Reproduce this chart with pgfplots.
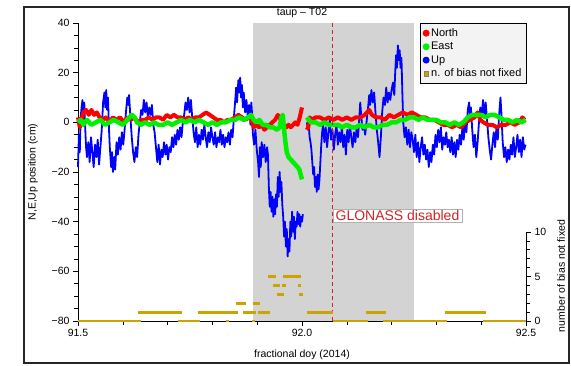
\documentclass[border=0pt]{standalone}
\usepackage{pgfplots}
\pgfplotsset{compat=1.18}
\usepackage{fontspec}
\setmainfont{Liberation Sans}
\definecolor{cN}{RGB}{255,0,0}
\definecolor{cE}{RGB}{0,240,0}
\definecolor{cU}{RGB}{0,0,255}
\definecolor{cB}{RGB}{204,163,0}
\definecolor{shade}{RGB}{211,211,211}
\definecolor{dline}{RGB}{210,35,35}
\begin{document}
\begin{tikzpicture}
\begin{axis}[
  name=main,
  at={(0,0)}, anchor=south west,
  scale only axis, width=448pt, height=298pt,
  xmin=91.5, xmax=92.5, ymin=-80, ymax=40,
  axis x line*=bottom, axis y line*=left,
  axis line style={black, line width=0.8pt},
  tick align=outside,
  major tick length=5pt, minor tick length=3.5pt,
  tick style={black, line width=0.6pt},
  xtick={91.5,92.0,92.5}, xticklabels={91.5,92.0,92.5},
  minor xtick={91.6,91.7,91.8,91.9,92.1,92.2,92.3,92.4},
  ytick={-80,-60,-40,-20,0,20,40},
  yticklabels={−80,−60,−40,−20,0,20,40},
  minor y tick num=3,
  ticklabel style={font=\fontsize{10.5}{12}\selectfont},
  /pgf/number format/assume math mode=true,
  clip=false,
  legend style={at={(1.002,1.0)}, anchor=north east, fill={rgb,255:red,243;green,243;blue,243},
    draw=black, line width=0.9pt, font=\fontsize{11}{12}\selectfont,
    row sep=0.3pt, inner xsep=3pt, inner ysep=3pt, cells={anchor=west}},
  legend cell align=left,
]
\addlegendimage{only marks, mark=*, cN, mark size=3pt}
\addlegendentry{North}
\addlegendimage{only marks, mark=*, cE, mark size=3pt}
\addlegendentry{East}
\addlegendimage{only marks, mark=*, cU, mark size=3pt}
\addlegendentry{Up}
\addlegendimage{only marks, mark=square*, cB, mark size=2.3pt, mark options={draw=black!50, line width=0.2pt, fill=cB}}
\addlegendentry{n. of bias not fixed}

% shaded period
\addplot[draw=none, fill=shade, forget plot] coordinates {(91.89,-80) (92.25,-80) (92.25,40) (91.89,40)} -- cycle;

% Up
\addplot[cU, line width=1.8pt, line join=round, unbounded coords=jump, forget plot] coordinates {
(91.500,-18) (91.502,-5) (91.504,-12) (91.506,2) (91.508,6) (91.510,9) (91.512,3) (91.514,8) (91.516,-2) (91.518,-10)
(91.520,-14) (91.523,-8) (91.526,-16) (91.529,-6) (91.532,-12) (91.535,-18) (91.538,-9) (91.541,-14) (91.544,-7) (91.547,-17) (91.550,-10)
(91.553,-3) (91.556,8) (91.559,12) (91.561,6) (91.563,13) (91.565,5) (91.567,10)
(91.569,-2) (91.571,-10) (91.574,-18) (91.576,-12) (91.578,-20) (91.581,-14) (91.583,-19)
(91.586,-8) (91.589,-13) (91.592,-6) (91.595,-11) (91.598,-4) (91.601,-9) (91.604,-3)
(91.607,4) (91.610,10) (91.612,7) (91.614,11) (91.617,2)
(91.620,-6) (91.623,-12) (91.626,-16) (91.629,-10) (91.632,-14) (91.635,-5)
(91.638,0) (91.641,5) (91.644,3) (91.647,9) (91.650,4) (91.653,8) (91.656,2) (91.659,6) (91.662,3) (91.665,7)
(91.668,-1) (91.671,-4)
(91.674,-10) (91.677,-16) (91.680,-9) (91.683,-17) (91.686,-11) (91.689,-14) (91.692,-8) (91.695,-13) (91.698,-9) (91.701,-15) (91.704,-10) (91.707,-12) (91.710,-6)
(91.713,-10) (91.716,-5) (91.719,-9) (91.722,-3) (91.725,-7) (91.728,-2) (91.731,-6) (91.734,0)
(91.737,3) (91.740,8) (91.743,5) (91.746,10) (91.749,4) (91.752,9) (91.755,2)
(91.758,-4) (91.761,-8) (91.764,-2) (91.767,-10) (91.770,-5)
(91.773,-9) (91.776,-3) (91.779,-7) (91.782,-1) (91.785,-6) (91.788,-10) (91.791,-4) (91.794,-8) (91.797,-2) (91.800,-6)
(91.803,-9) (91.806,-4) (91.809,-10) (91.812,-6) (91.815,-8) (91.818,-3) (91.821,-9) (91.824,-5) (91.827,-10) (91.830,-6) (91.833,-8) (91.836,-4) (91.839,-9) (91.842,-3) (91.845,-6)
(91.848,2) (91.851,9) (91.853,14) (91.855,8) (91.858,17) (91.860,12) (91.862,18) (91.864,10) (91.866,15) (91.868,6) (91.870,12)
(91.873,4) (91.876,9) (91.879,2) (91.882,7) (91.885,-1) (91.887,8) (91.889,2)
(91.890,-4) (91.893,-9) (91.896,-3) (91.899,-11)
(91.902,-16) (91.904,-22) (91.906,-10) (91.908,-18) (91.910,-8)
(91.913,-14) (91.916,-9) (91.919,-16) (91.922,-10) (91.924,-13)
(91.926,-26) (91.928,-34) (91.930,-28) (91.932,-36)
(91.934,-30) (91.936,-38) (91.938,-31) (91.940,-37) (91.942,-29)
(91.944,-34) (91.946,-22) (91.948,-30) (91.950,-20) (91.952,-28) (91.954,-24) (91.956,-33)
(91.958,-38) (91.960,-46) (91.962,-40) (91.964,-50) (91.966,-43) (91.968,-54) (91.970,-47) (91.972,-52)
(91.974,-40) (91.976,-46) (91.978,-36) (91.980,-44) (91.982,-38) (91.984,-47) (91.986,-40)
(91.988,-42) (91.990,-36) (91.992,-41) (91.994,-37) (91.996,-42) (91.998,-38) (92.000,-40) (92.002,-37)
(92.006,nan)
(92.011,0) (92.013,-3) (92.015,-1) (92.017,-6) (92.019,-8) (92.021,-11)
(92.023,-16) (92.025,-21) (92.027,-18) (92.029,-26) (92.031,-22) (92.033,-28)
(92.035,-21) (92.037,-27) (92.039,-23)
(92.041,-16) (92.043,-9) (92.045,-4) (92.047,-1)
(92.050,-8) (92.053,-2) (92.056,-10) (92.059,-4) (92.062,1) (92.065,-7) (92.068,-3) (92.071,-11) (92.074,-5) (92.077,-1) (92.080,-9) (92.083,-4) (92.086,-8) (92.089,-2) (92.092,-10) (92.095,-5)
(92.098,-13) (92.101,-3) (92.104,-8) (92.107,-1) (92.110,-6) (92.113,-10) (92.116,-4) (92.119,-8) (92.122,-2) (92.125,-6)
(92.128,2) (92.130,8) (92.132,3)
(92.135,-3) (92.138,-1) (92.141,-5) (92.144,0)
(92.147,5) (92.150,11) (92.152,7) (92.155,13) (92.158,8) (92.161,12)
(92.164,4) (92.167,-3)
(92.170,-8) (92.173,-14) (92.176,-6)
(92.179,4) (92.182,10) (92.185,7) (92.188,14) (92.191,8) (92.194,12) (92.197,9)
(92.200,13) (92.203,16) (92.206,11)
(92.208,20) (92.210,27) (92.212,22) (92.214,31) (92.216,25) (92.218,29) (92.220,22) (92.222,26)
(92.224,12) (92.226,0)
(92.229,-6) (92.232,-2) (92.235,-9) (92.238,-3) (92.241,-10) (92.244,-4) (92.247,-7)
(92.250,-12) (92.253,-5) (92.256,-14) (92.259,-8) (92.262,-16) (92.265,-10) (92.268,-6) (92.271,-13) (92.274,-9) (92.277,-15) (92.280,-11) (92.283,-18) (92.286,-12) (92.289,-16) (92.292,-9) (92.295,-13)
(92.298,-5) (92.301,-10) (92.304,-3) (92.307,-8) (92.310,-2) (92.313,-11) (92.316,-6) (92.319,-9) (92.322,-4) (92.325,-10) (92.328,-7)
(92.331,-12) (92.334,-6) (92.337,-13) (92.340,-8) (92.343,-14) (92.346,-7) (92.349,-11) (92.352,-5)
(92.355,-9) (92.358,-2) (92.361,-7) (92.364,1) (92.367,-4) (92.370,5) (92.373,8) (92.375,2) (92.377,6)
(92.380,-3) (92.383,-10) (92.386,-5) (92.389,-14) (92.392,-8)
(92.395,0) (92.398,6) (92.401,2) (92.404,9) (92.407,3) (92.410,8) (92.413,1)
(92.416,-6) (92.419,-11) (92.422,-15) (92.425,-9)
(92.428,-4) (92.431,-10) (92.434,-2) (92.437,-7) (92.440,3) (92.443,10) (92.445,4)
(92.448,-8) (92.451,-14) (92.454,-10) (92.457,-16) (92.460,-11) (92.463,-15) (92.466,-9) (92.469,-13) (92.472,-6) (92.475,-14) (92.478,-10)
(92.481,-5) (92.484,-12) (92.487,-7) (92.490,-14) (92.493,-6) (92.496,-11) (92.499,-9)
};

% North
\addplot[cN, line width=4pt, line join=round, unbounded coords=jump, forget plot] coordinates {
(91.500,2) (91.504,-2) (91.508,1) (91.512,4) (91.518,5) (91.524,3) (91.530,5) (91.536,3) (91.542,4) (91.548,2)
(91.555,1) (91.562,2) (91.570,0) (91.578,2) (91.586,1) (91.594,2) (91.602,0) (91.610,2) (91.618,1) (91.626,2)
(91.634,0) (91.642,1) (91.650,1) (91.658,2) (91.666,1) (91.674,2) (91.682,2) (91.690,1) (91.698,3) (91.706,2)
(91.714,3) (91.722,2) (91.730,2) (91.738,1) (91.746,2) (91.754,1) (91.762,2) (91.770,2) (91.778,3) (91.786,4)
(91.794,3) (91.802,2) (91.810,1) (91.818,1) (91.826,0) (91.834,1) (91.842,1) (91.850,2) (91.858,3) (91.866,2)
(91.874,1) (91.882,2) (91.888,1) (91.892,-2) (91.898,-1) (91.904,-2) (91.910,-1) (91.916,-3) (91.922,-2) (91.928,-1)
(91.934,0) (91.940,1) (91.946,3) (91.950,2) (91.955,0) (91.960,-1) (91.965,-2) (91.970,-1) (91.975,-2) (91.980,-1)
(91.985,0) (91.990,-1) (91.995,2) (92.000,6)
(92.006,nan)
(92.011,-3) (92.014,-2) (92.017,2) (92.022,1) (92.030,2) (92.040,2) (92.050,1) (92.060,2) (92.070,1) (92.080,2)
(92.090,1) (92.100,2) (92.110,1) (92.120,2) (92.130,2) (92.140,3) (92.150,5) (92.156,3) (92.165,2) (92.175,2)
(92.185,1) (92.195,3) (92.205,2) (92.215,3) (92.225,4) (92.235,3) (92.245,4) (92.255,3) (92.265,2) (92.275,2)
(92.285,1) (92.295,1) (92.305,0) (92.315,-1) (92.325,-1) (92.335,-2) (92.345,-1) (92.355,-2) (92.365,0) (92.375,1)
(92.385,2) (92.392,4) (92.398,1) (92.405,0) (92.415,-1) (92.425,-1) (92.435,-2) (92.445,-1) (92.455,-1) (92.465,0)
(92.475,-1) (92.485,0) (92.492,2) (92.497,1)
};

% East
\addplot[cE, line width=4.5pt, line join=round, unbounded coords=jump, forget plot] coordinates {
(91.500,0) (91.506,1) (91.512,-1) (91.520,1) (91.530,-1) (91.540,0) (91.550,1) (91.560,-1) (91.570,0) (91.580,1)
(91.590,0) (91.600,-1) (91.610,1) (91.620,3) (91.626,2) (91.632,0) (91.640,-1) (91.650,0) (91.660,-1) (91.670,0)
(91.680,-1) (91.690,-1) (91.700,0) (91.710,-1) (91.720,0) (91.730,1) (91.740,0) (91.750,1) (91.760,0) (91.770,1)
(91.780,0) (91.790,-1) (91.800,0) (91.810,-1) (91.820,0) (91.830,0) (91.840,1) (91.850,1) (91.860,2) (91.870,1)
(91.880,2) (91.886,3) (91.892,1) (91.898,0) (91.905,1) (91.912,-1) (91.920,-1) (91.928,-2) (91.936,-2) (91.944,-3)
(91.950,-2) (91.954,2) (91.957,3) (91.960,-3) (91.963,-8) (91.966,-12) (91.970,-14) (91.975,-15) (91.980,-16) (91.985,-17)
(91.990,-18) (91.994,-19) (91.997,-21) (92.000,-23)
(92.006,nan)
(92.011,2) (92.015,1) (92.020,0) (92.030,0) (92.040,-1) (92.050,0) (92.060,-1) (92.070,-1) (92.080,-1) (92.090,-2)
(92.100,-1) (92.110,-2) (92.120,-2) (92.130,-1) (92.140,-2) (92.150,-1) (92.160,-2) (92.170,-2) (92.180,-1) (92.190,-1)
(92.200,0) (92.210,0) (92.220,1) (92.230,1) (92.240,2) (92.250,2) (92.260,1) (92.270,2) (92.280,1) (92.290,1)
(92.300,1) (92.310,0) (92.320,0) (92.330,-1) (92.340,0) (92.350,-1) (92.360,0) (92.370,2) (92.380,3) (92.390,3)
(92.400,3) (92.410,2) (92.420,3) (92.430,3) (92.440,2) (92.450,1) (92.460,1) (92.470,0) (92.480,1) (92.490,0) (92.499,1)
};

% GLONASS disabled line
\addplot[dline, line width=0.9pt, dash pattern=on 4pt off 3pt, forget plot] coordinates {(92.069,-80) (92.069,40)};
\node[draw=gray!60, fill=white, text=dline, anchor=west, inner xsep=2.5pt, inner ysep=1.2pt,
  font=\fontsize{14}{16}\selectfont] at (axis cs:92.069,-37.6) {GLONASS disabled};
\end{axis}

\begin{axis}[
  at={(0,0)}, anchor=south west,
  scale only axis, width=448pt, height=298pt,
  xmin=91.5, xmax=92.5, ymin=0, ymax=33.48,
  axis x line=none, axis y line*=right,
  y axis line style={draw=none},
  tick align=outside,
  major tick length=5pt, minor tick length=3.5pt,
  tick style={black, line width=0.6pt},
  ytick={0,5,10}, minor ytick={1,2,3,4,6,7,8,9},
  ticklabel style={font=\fontsize{10.5}{12}\selectfont},
  /pgf/number format/assume math mode=true,
  clip=false,
]
\addplot[cB, line width=2.8pt, unbounded coords=jump] coordinates {
(91.500,0) (91.641,0) (91.642,nan)
(91.723,0) (91.772,0) (91.773,nan)
(91.830,0) (91.836,0) (91.837,nan)
(91.888,0) (91.894,0) (91.895,nan)
(92.069,0) (92.147,0) (92.148,nan)
(92.181,0) (92.324,0) (92.325,nan)
(92.404,0) (92.500,0) (92.501,nan)
(91.634,1) (91.732,1) (91.733,nan)
(91.768,1) (91.857,1) (91.858,nan)
(91.868,1) (91.897,1) (91.898,nan)
(91.902,1) (91.929,1) (91.930,nan)
(92.011,1) (92.069,1) (92.070,nan)
(92.143,1) (92.188,1) (92.189,nan)
(92.319,1) (92.411,1) (92.412,nan)
(91.853,2) (91.875,2) (91.876,nan)
(91.891,2) (91.906,2) (91.907,nan)
(91.944,3) (91.960,3) (91.961,nan)
(91.993,3) (92.002,3) (92.003,nan)
(91.935,4) (91.951,4) (91.952,nan)
(91.955,4) (91.964,4) (91.965,nan)
(91.991,4) (91.998,4) (91.999,nan)
(91.924,5) (91.942,5) (91.943,nan)
(91.958,5) (91.998,5)
};
\draw[black, line width=0.8pt] (axis cs:92.5,0) -- (axis cs:92.5,10);
\end{axis}

\node[font=\fontsize{10.5}{12}\selectfont] at (224pt,308pt) {taup – T02};
\node[font=\fontsize{10.5}{12}\selectfont] at (224pt,-34pt) {fractional doy (2014)};
\node[font=\fontsize{10.5}{12}\selectfont, rotate=90] at (-45pt,149pt) {N,E,Up position (cm)};
\node[font=\fontsize{10.5}{12}\selectfont, rotate=90] at (483pt,45pt) {number of bias not fixed};
\draw[black!85, line width=1.2pt] (-54pt,-42pt) rectangle (491pt,314pt);
\pgfresetboundingbox
\path (-78pt,-44pt) rectangle (493pt,321pt);
\end{tikzpicture}
\end{document}
